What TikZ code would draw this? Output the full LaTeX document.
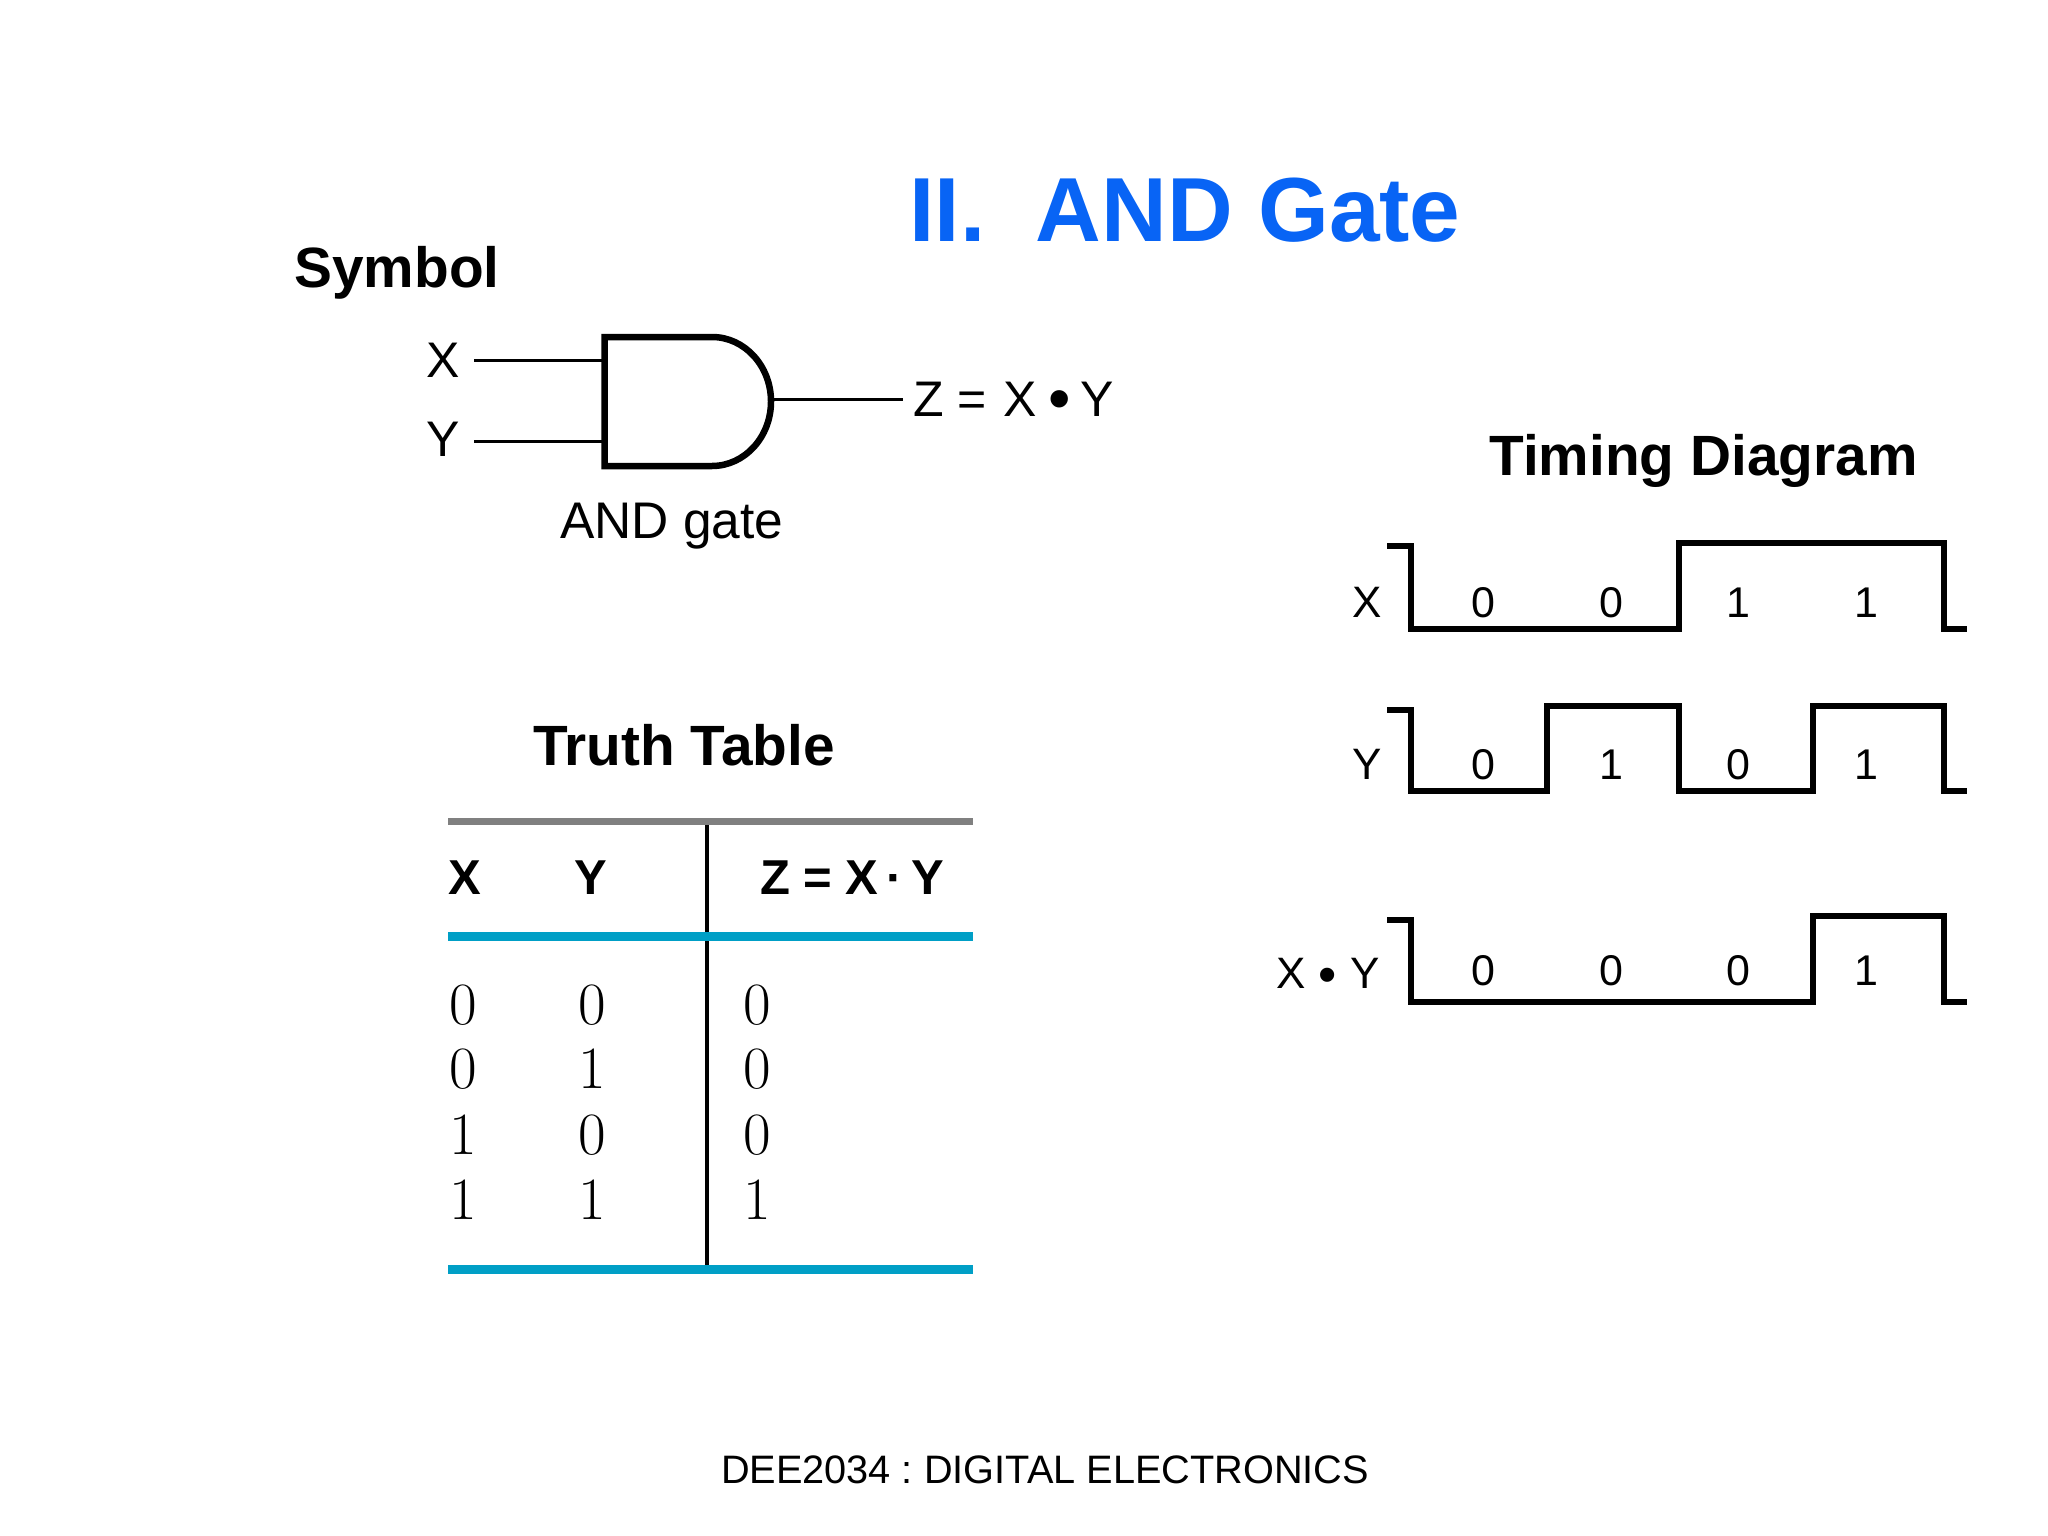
\documentclass[tikz,border=0pt]{standalone}
\usepackage{fontspec}
\usetikzlibrary{positioning}
\newfontfamily\arial{Liberation Sans}
\definecolor{titleblue}{RGB}{8,100,245}
\definecolor{rulecyan}{RGB}{0,159,198}
\definecolor{rulegray}{RGB}{128,128,128}
\newcommand{\bigdot}[1]{{\fontsize{#1}{#1}\selectfont\raisebox{-4pt}{•}}}

\begin{document}
\frenchspacing
\begin{tikzpicture}[x=1pt,y=-1pt]
\tikzstyle{title}=[font=\arial\bfseries\fontsize{91}{95}\selectfont, text=titleblue, anchor=base, inner sep=0pt]
\tikzstyle{head}=[font=\arial\bfseries\fontsize{56.8}{60}\selectfont, anchor=base, inner sep=0pt]
\tikzstyle{foot}=[font=\arial\fontsize{39.7}{44}\selectfont, anchor=base, inner sep=0pt]
\tikzstyle{label}=[font=\arial\fontsize{50}{54}\selectfont, inner sep=0pt]
\tikzstyle{tabhead}=[font=\arial\bfseries\fontsize{49}{52}\selectfont, inner sep=0pt]
\tikzstyle{cell}=[font=\fontsize{60}{64}\selectfont, inner sep=0pt, text height=39pt, text depth=0pt, on grid]
\tikzstyle{bit}=[font=\arial\fontsize{43}{46}\selectfont, inner sep=0pt, text height=31pt, text depth=0pt, on grid]
\tikzstyle{sig}=[font=\arial\fontsize{44}{48}\selectfont, inner sep=0pt]
\tikzstyle{wire}=[line width=3pt]
\tikzstyle{gate}=[line width=6.5pt, miter limit=10]
\tikzstyle{wave}=[line width=5.5pt]
\tikzstyle{thickrule}=[line width=9pt, draw=rulecyan]

  \useasboundingbox (0,0) rectangle (2048,1536);

%% Headings
  \node[title] (title) at (1185,241) {II.\ \ AND Gate};
  \node[head] (symbol) at (397,287) {Symbol};
  \node[head] (truth) at (684,765) {Truth Table};
  \node[head] (timing) at (1703.5,475) {Timing Diagram};
  \node[foot] (footer) at (1045,1483) {DEE2034 : DIGITAL ELECTRONICS};

%% Symbol
  \draw[gate] (604.5,337) -- (712,337)
        .. controls (744.6,337) and (771,365.9) .. (771,401.5)
        .. controls (771,437.1) and (744.6,466) .. (712,466)
        -- (604.5,466) -- cycle;
  \node[label] (in_x) at (443,360) {X};
  \node[label] (in_y) at (443,439) {Y};
  \node[label, anchor=base west] (out_z) at (913,416) {Z = \hspace{3pt}X\hspace{11pt}\bigdot{64}\hspace{10pt}Y};
  \node[label, anchor=base, font=\arial\fontsize{51.5}{54}\selectfont] (gate_name) at (672,538) {AND gate};

  \coordinate (x_start) at (474,360);
  \coordinate (x_pin) at (604.5,360);
  \coordinate (y_start) at (474,441);
  \coordinate (y_pin) at (604.5,441);
  \coordinate (z_pin) at (771,399);
  \coordinate (z_end) at (903,399);
  \draw[wire] (x_start) -- (x_pin);
  \draw[wire] (y_start) -- (y_pin);
  \draw[wire] (z_pin) -- (z_end);

%% Truth table
  \coordinate (top_l) at (448,821);
  \coordinate (top_r) at (973,821);
  \coordinate (mid_l) at (448,936);
  \coordinate (mid_r) at (973,936);
  \coordinate (bot_l) at (448,1269);
  \coordinate (bot_r) at (973,1269);
  \coordinate (sep_t) at (707,823);
  \coordinate (sep_b) at (707,1267);
  \draw[line width=4.5pt] (sep_t) -- (sep_b);
  \draw[line width=7pt, draw=rulegray] (top_l) -- (top_r);
  \draw[thickrule] (mid_l) -- (mid_r);
  \draw[thickrule] (bot_l) -- (bot_r);

  \node[tabhead] (h_x) at (465,878) {X};
  \node[tabhead] (h_y) at (591,878) {Y};
  \node[tabhead] (h_z) at (852,878) {Z = X\,·\,Y};

  \node[cell] (a1) at (463,1004.5) {0};
  \node[cell] (a2) [below=64pt of a1] {0};
  \node[cell] (a3) [below=66pt of a2] {1};
  \node[cell] (a4) [below=65pt of a3] {1};
  \node[cell] (b1) [right=129pt of a1] {0};
  \node[cell] (b2) [below=64pt of b1] {1};
  \node[cell] (b3) [below=66pt of b2] {0};
  \node[cell] (b4) [below=65pt of b3] {1};
  \node[cell] (c1) [right=165pt of b1] {0};
  \node[cell] (c2) [below=64pt of c1] {0};
  \node[cell] (c3) [below=66pt of c2] {0};
  \node[cell] (c4) [below=65pt of c3] {1};

%% Timing diagram
  \draw[wave] (1387,546) -- (1411,546) -- (1411,629) -- (1679,629) -- (1679,543)
        -- (1944,543) -- (1944,629) -- (1967,629);
  \draw[wave] (1387,710) -- (1411,710) -- (1411,791) -- (1547,791) -- (1547,706)
        -- (1679,706) -- (1679,791) -- (1813,791) -- (1813,706)
        -- (1944,706) -- (1944,791) -- (1967,791);
  \draw[wave] (1387,920) -- (1411,920) -- (1411,1002) -- (1813,1002) -- (1813,916)
        -- (1944,916) -- (1944,1002) -- (1967,1002);

  \node[sig] (sig_x) at (1367,602) {X};
  \node[sig] (sig_y) at (1367,764) {Y};
  \node[sig, anchor=base] (sig_xy) at (1328,988) {X\hspace{13pt}\bigdot{52}\hspace{13pt}Y};

  \node[bit] (x1) at (1483,601.5) {0};
  \node[bit] (x2) [right=128pt of x1] {0};
  \node[bit] (x3) [right=127pt of x2] {1};
  \node[bit] (x4) [right=128pt of x3] {1};
  \node[bit] (y1) [below=162pt of x1] {0};
  \node[bit] (y2) [right=128pt of y1] {1};
  \node[bit] (y3) [right=127pt of y2] {0};
  \node[bit] (y4) [right=128pt of y3] {1};
  \node[bit] (z1) [below=206pt of y1] {0};
  \node[bit] (z2) [right=128pt of z1] {0};
  \node[bit] (z3) [right=127pt of z2] {0};
  \node[bit] (z4) [right=128pt of z3] {1};
\end{tikzpicture}
\end{document}
